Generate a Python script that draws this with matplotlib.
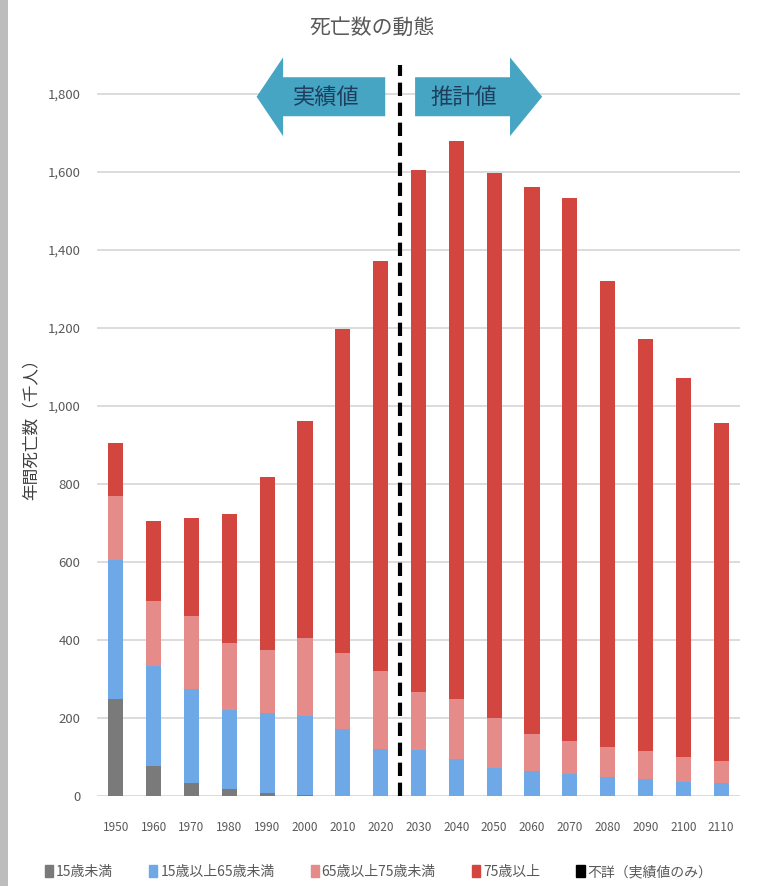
import matplotlib
matplotlib.use('Agg')
import matplotlib.pyplot as plt
import matplotlib.patches as mpatches
from matplotlib.ticker import FuncFormatter
import numpy as np

plt.rcParams['font.family'] = ['Noto Sans CJK JP', 'DejaVu Sans']

years = ['1950', '1960', '1970', '1980', '1990', '2000', '2010', '2020', '2030',
         '2040', '2050', '2060', '2070', '2080', '2090', '2100', '2110']

# cumulative tops per age band (千人)
under15 = [248, 77, 34, 17, 8, 3, 1, 0, 0, 0, 0, 0, 0, 0, 0, 0, 0]
top_15_65 = [605, 333, 274, 220, 212, 205, 171, 120, 118, 94, 71, 64, 56, 48, 43, 37, 34]
top_65_75 = [769, 500, 462, 393, 374, 404, 367, 321, 266, 248, 201, 158, 141, 126, 115, 101, 90]
totals = [904, 706, 712, 722, 819, 962, 1197, 1373, 1605, 1680, 1598, 1562, 1533, 1320, 1173, 1071, 956]
unknown = [0] * len(years)

a0 = np.array(under15)
a1 = np.array(top_15_65) - a0
a2 = np.array(top_65_75) - np.array(top_15_65)
a3 = np.array(totals) - np.array(top_65_75)
a4 = np.array(unknown)

series = [
    ('15歳未満', a0, '#7a7a7a'),
    ('15歳以上65歳未満', a1, '#6fa8e6'),
    ('65歳以上75歳未満', a2, '#e58c8a'),
    ('75歳以上', a3, '#d2463f'),
    ('不詳（実績値のみ）', a4, '#000000'),
]

fig = plt.figure(figsize=(7.57, 8.86), dpi=100)
ax = fig.add_axes([97 / 757, 90 / 886, 643 / 757, 741 / 886])

x = np.arange(len(years))
bottom = np.zeros(len(years))
for label, vals, color in series:
    ax.bar(x, vals, 0.4, bottom=bottom, color=color, label=label, zorder=3)
    bottom = bottom + vals

ax.set_xlim(-0.5, len(years) - 0.5)
ax.set_ylim(0, 1900)
ax.set_yticks(np.arange(0, 1801, 200))
ax.yaxis.set_major_formatter(FuncFormatter(lambda v, p: f'{int(v):,}'))
ax.set_xticks(x)
ax.set_xticklabels(years)
ax.tick_params(axis='both', length=0, colors='#595959')
ax.tick_params(axis='x', pad=18, labelsize=8.5)
ax.tick_params(axis='y', pad=12, labelsize=9.5)
ax.grid(axis='y', color='#d9d9d9', linewidth=1.3, zorder=0)
for s in ax.spines.values():
    s.set_visible(False)

ax.set_ylabel('年間死亡数（千人）', fontsize=12, color='#404040', labelpad=6)

# boundary between actual and projected values
ax.plot([7.5, 7.5], [0, 1875], color='black', linewidth=3, linestyle=(0, (3.2, 1.6)),
        zorder=4, clip_on=False)

arrow_color = '#45a5c3'
left_arrow = [(3.72, 1793), (4.42, 1894), (4.42, 1843), (7.12, 1843),
              (7.12, 1743), (4.42, 1743), (4.42, 1692)]
right_arrow = [(11.27, 1793), (10.42, 1894), (10.42, 1843), (7.91, 1843),
               (7.91, 1743), (10.42, 1743), (10.42, 1692)]
for pts in (left_arrow, right_arrow):
    ax.add_patch(mpatches.Polygon(pts, closed=True, facecolor=arrow_color,
                                  edgecolor='none', zorder=5, clip_on=False))
ax.text(5.55, 1790, '実績値', fontsize=16, color='#1f3e5e', ha='center', va='center', zorder=6)
ax.text(9.2, 1790, '推計値', fontsize=16, color='#1f3e5e', ha='center', va='center', zorder=6)

fig.text(372 / 757, 1 - 28 / 886, '死亡数の動態', fontsize=15, color='#595959',
         ha='center', va='center')

handles = [mpatches.Patch(color=c) for _, _, c in series]
labels = [l for l, _, _ in series]
fig.legend(handles, labels, loc='center', bbox_to_anchor=(0.5, 1 - 872 / 886), ncol=5,
           frameon=False, fontsize=10, handlelength=0.6, handleheight=0.9,
           handletextpad=0.2, columnspacing=2.6, labelcolor='#595959')

# grey strip on the left edge
fig.patches.append(mpatches.Rectangle((0, 0), 8 / 757, 1, transform=fig.transFigure,
                                      facecolor='#bdbdbd', edgecolor='none'))

fig.savefig('out.png', dpi=100)
